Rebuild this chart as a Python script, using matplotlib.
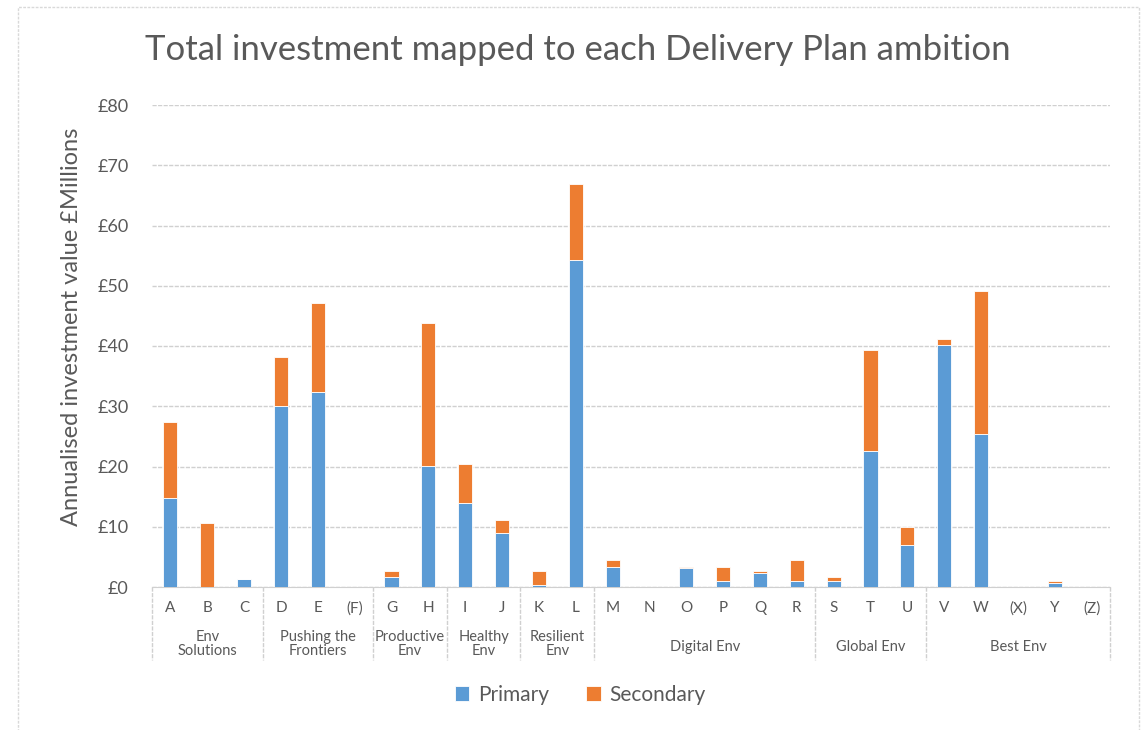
import matplotlib
matplotlib.use("Agg")
import matplotlib.pyplot as plt
import matplotlib.transforms as mtransforms
from matplotlib.patches import Rectangle
import numpy as np

# Chart data (values in £ millions)
categories = ["A", "B", "C", "D", "E", "(F)", "G", "H", "I", "J", "K", "L", "M",
              "N", "O", "P", "Q", "R", "S", "T", "U", "V", "W", "(X)", "Y", "(Z)"]
primary = [14.7, 0.0, 1.4, 30.1, 32.4, 0.0, 1.7, 20.1, 14.0, 9.0, 0.4, 54.2, 3.4,
           0.0, 3.1, 1.0, 2.4, 1.0, 1.0, 22.5, 7.0, 40.1, 25.4, 0.0, 0.7, 0.0]
secondary = [12.7, 10.7, 0.0, 8.0, 14.8, 0.0, 1.0, 23.7, 6.4, 2.1, 2.3, 12.7, 1.0,
             0.0, 0.3, 2.4, 0.3, 3.4, 0.7, 16.9, 3.0, 1.0, 23.7, 0.0, 0.35, 0.0]
# long group names wrapped so they don't run into each other
group_names = ["Env\nSolutions", "Pushing the\nFrontiers", "Productive\nEnv", "Healthy\nEnv",
               "Resilient\nEnv", "Digital Env", "Global Env", "Best Env"]
group_sizes = [3, 3, 2, 2, 2, 6, 3, 5]
yticks = [0, 10, 20, 30, 40, 50, 60, 70, 80]

BLUE = "#5B9BD5"
ORANGE = "#ED7D31"
GREY_TXT = "#595959"
GRID = "#D0D0D0"

plt.rcParams['font.family'] = ['Lato', 'DejaVu Sans']

W, H = 1145, 730
fig = plt.figure(figsize=(W / 100, H / 100), dpi=100)
fig.patch.set_facecolor("white")

# outer chart frame
frame = Rectangle((18 / W, -0.02), (1139 - 18) / W, 1 - 7 / H + 0.02,
                  transform=fig.transFigure, fill=False, edgecolor="#D9D9D9",
                  linewidth=1.0, linestyle=(0, (2, 1)))
fig.patches.append(frame)

left, right = 152 / W, 1110 / W
bottom, top = (H - 587) / H, (H - 105) / H
ax = fig.add_axes([left, bottom, right - left, top - bottom])

x = np.arange(len(categories))
ax.bar(x, primary, width=0.38, color=BLUE, edgecolor="white", linewidth=0.6,
       label="Primary", zorder=3)
ax.bar(x, secondary, width=0.38, bottom=primary, color=ORANGE, edgecolor="white",
       linewidth=0.6, label="Secondary", zorder=3)

ax.set_xlim(-0.5, len(categories) - 0.5)
ax.set_ylim(0, 80)
ax.set_yticks(yticks)
ax.set_yticklabels(["£%d" % v for v in yticks], fontsize=13, color=GREY_TXT)
ax.tick_params(axis="y", length=0, pad=17)
ax.yaxis.grid(True, color=GRID, linestyle=(0, (3, 1)), linewidth=1.0, zorder=0)
ax.set_axisbelow(True)
for s in ["top", "right", "left"]:
    ax.spines[s].set_visible(False)
ax.spines["bottom"].set_color(GRID)
ax.spines["bottom"].set_linestyle((0, (3, 1)))

# category letters
ax.set_xticks(x)
ax.set_xticklabels(categories, fontsize=11, color=GREY_TXT)
ax.tick_params(axis="x", length=0, pad=10)

# group labels and separators below the axis
ax_w = (right - left) * W
ax_h = (top - bottom) * H
trans = mtransforms.blended_transform_factory(ax.transData, ax.transAxes)
edges = np.concatenate([[0], np.cumsum(group_sizes)]) - 0.5
for e in edges:
    ax.plot([e, e], [0, -73 / ax_h], transform=trans, clip_on=False,
            color=GRID, linewidth=1.0, linestyle=(0, (3, 1)))
for i, name in enumerate(group_names):
    c = (edges[i] + edges[i + 1]) / 2
    yoff = -57 if "\n" in name else -60
    ax.text(c, yoff / ax_h, name, transform=trans, ha="center", va="center",
            fontsize=10.5, color=GREY_TXT, linespacing=1.0)

ax.set_ylabel("Annualised investment value £Millions", fontsize=17, color=GREY_TXT)
ax.yaxis.set_label_coords(-(152 - 82) / ax_w, (587 - 327) / ax_h)

fig.text(578 / W, 1 - 50 / H, "Total investment mapped to each Delivery Plan ambition",
         ha="center", va="center", fontsize=25, color=GREY_TXT)

leg = fig.legend(loc="center", bbox_to_anchor=(580 / W, 1 - 695 / H), ncol=2,
                 frameon=False, fontsize=15, handlelength=0.7, handleheight=0.7,
                 handletextpad=0.4, columnspacing=1.8)
for t in leg.get_texts():
    t.set_color(GREY_TXT)

fig.savefig("out.png", dpi=100)
